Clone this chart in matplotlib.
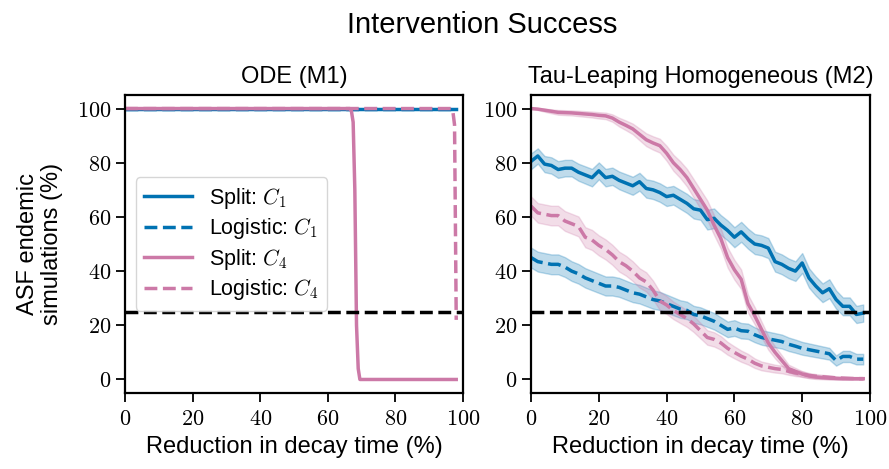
import numpy as np
import matplotlib
matplotlib.use("Agg")
import matplotlib.pyplot as plt
from matplotlib.ticker import FuncFormatter

plt.rcParams['font.family'] = ['Liberation Sans', 'DejaVu Sans']
plt.rcParams['mathtext.fontset'] = 'cm'

BLUE = '#0072B2'
PINK = '#CC79A7'

# ODE (M1) -- deterministic runs
ode_x = [0, 66.5, 67, 67.5, 68, 68.5, 69, 69.5, 96.5, 97, 97.5, 98]
ode_split_c1 = [100, 100, 100, 100, 100, 100, 100, 100, 100, 100, 100, 100]
ode_logistic_c1 = [100, 100, 100, 100, 100, 100, 100, 100, 100, 100, 100, 100]
ode_split_c4 = [100, 100, 99, 95, 70, 20, 4, 0, 0, 0, 0, 0]
ode_logistic_c4 = [100, 100, 100, 100, 100, 100, 100, 100, 100, 99, 94, 22]

# Tau-leaping homogeneous (M2)
tau_x = list(range(0, 100, 2))
tau_split_c1 = [80.5, 82.5, 79.5, 79, 77.5, 78, 78, 76.5, 75.5, 74.5,
                77, 74.5, 75, 73.5, 72.5, 71.5, 73, 70.5, 70, 69,
                67.5, 68, 66.5, 65, 63, 62.5, 59, 59.5, 57, 55,
                52.5, 54.5, 52, 50, 49.5, 48.5, 43.5, 42.5, 41, 40,
                43, 37.5, 34.5, 32, 33.5, 29.5, 27, 27, 24, 24.5]
tau_logistic_c1 = [45, 43.5, 43, 42.5, 42.5, 41.5, 40, 39, 37.5, 36.5,
                   35.5, 34.5, 34.5, 34, 33, 32, 31.5, 30.5, 29.5, 29,
                   28, 27, 26, 25.5, 24, 23.5, 22.5, 21.5, 20, 18.5,
                   19, 18, 17.8, 16.5, 15.5, 15, 14.5, 14, 13, 12.3,
                   11.5, 11, 10.5, 10, 9.5, 7, 8.5, 8.5, 7.5, 7.5]
tau_split_c4 = [100, 99.8, 99.4, 99, 98.6, 98.5, 98.4, 98.2, 98, 97.8,
                97.5, 97.3, 96.5, 95, 93.8, 92.5, 90.5, 88.5, 87.3, 86.3,
                83.5, 80, 77.5, 74.5, 70.5, 66.5, 62.5, 57, 52, 45,
                40.5, 37, 28, 23.5, 18.5, 13.5, 10, 7, 4, 3,
                2, 1.3, 0.9, 0.7, 0.5, 0.4, 0.3, 0.3, 0.3, 0.3]
tau_logistic_c4 = [64, 61.5, 61, 60.5, 60.5, 58.5, 57.5, 56.5, 52.5, 51.5,
                   49.5, 48, 46, 43.5, 42, 40, 37.5, 36, 33, 29,
                   27.5, 25.5, 24, 22.5, 20.5, 18, 15.5, 14.8, 13.5, 11.5,
                   10, 8.6, 7.5, 6, 5, 4.5, 4, 3.7, 3, 2.4,
                   2, 1.5, 1.2, 1, 0.8, 0.6, 0.5, 0.4, 0.3, 0.3]
n_runs = 700  # simulations per point, for the 95% band

threshold = 25

fig = plt.figure(figsize=(8.89, 4.69), dpi=100)
ax1 = fig.add_axes([0.1406, 0.162, 0.3802, 0.6354])
ax2 = fig.add_axes([0.5973, 0.162, 0.3813, 0.6354])

series = [
    ('Split: $C_1$', BLUE, '-'),
    ('Logistic: $C_1$', BLUE, '--'),
    ('Split: $C_4$', PINK, '-'),
    ('Logistic: $C_4$', PINK, '--'),
]

for (label, c, ls), y in zip(series, [ode_split_c1, ode_logistic_c1,
                                      ode_split_c4, ode_logistic_c4]):
    ax1.plot(ode_x, y, color=c, ls=ls, lw=2.5, label=label)

for (label, c, ls), y in zip(series, [tau_split_c1, tau_logistic_c1,
                                      tau_split_c4, tau_logistic_c4]):
    y = np.array(y)
    p = y / 100.0
    half = 196.0 * np.sqrt(p * (1 - p) / n_runs)
    ax2.fill_between(tau_x, y - half, y + half, color=c, alpha=0.25, lw=1)
    ax2.plot(tau_x, y, color=c, ls=ls, lw=2.5, label=label)

fmt = FuncFormatter(lambda v, pos: '$%d$' % v)
for ax in (ax1, ax2):
    ax.axhline(threshold, color='black', ls='--', lw=2.5)
    ax.set_xlim(0, 100)
    ax.set_ylim(-5, 105)
    ax.set_xticks([0, 20, 40, 60, 80, 100])
    ax.set_yticks([0, 20, 40, 60, 80, 100])
    ax.xaxis.set_major_formatter(fmt)
    ax.yaxis.set_major_formatter(fmt)
    ax.tick_params(labelsize=16, length=6.5, width=1.3)
    ax.tick_params(axis='x', pad=5)
    for s in ax.spines.values():
        s.set_linewidth(1.6)
    ax.set_xlabel('Reduction in decay time (%)', fontsize=17, labelpad=4)

ax1.set_ylabel('ASF endemic\nsimulations (%)', fontsize=17, linespacing=1.1,
               labelpad=10)
ax1.set_title('ODE (M1)', fontsize=17, pad=9)
ax2.set_title('Tau-Leaping Homogeneous (M2)', fontsize=17, pad=9)
ax1.legend(loc='center left', fontsize=15.5, handlelength=2.2,
           labelspacing=0.25, borderpad=0.4)
fig.text(0.542, 0.93, 'Intervention Success', fontsize=21,
         ha='center', va='baseline')

fig.savefig('out.png', dpi=100)
